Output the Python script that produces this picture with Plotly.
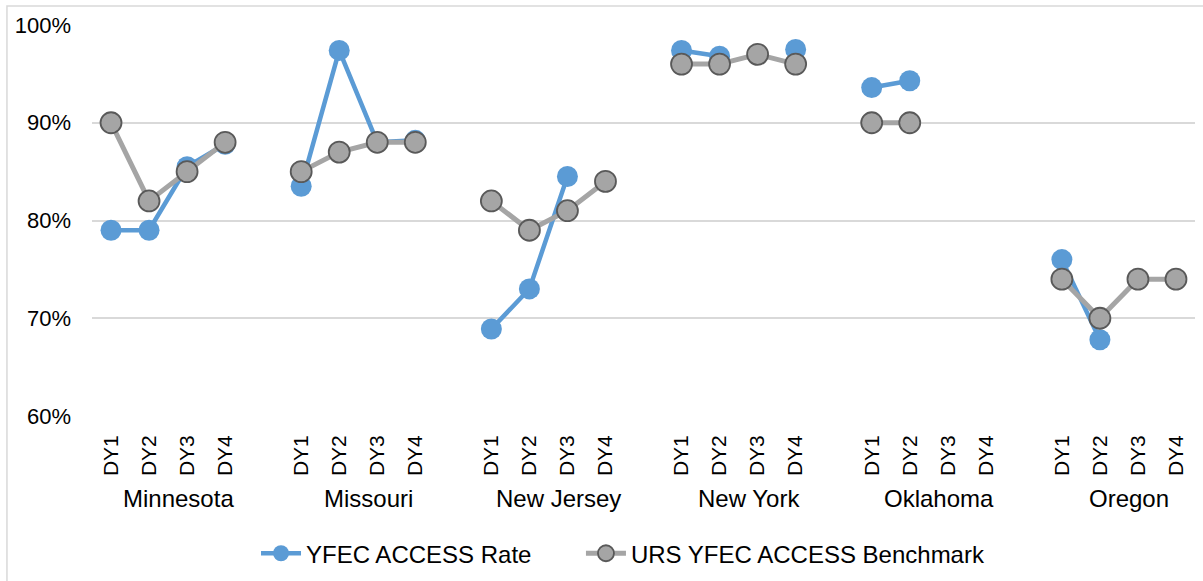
import plotly.graph_objects as go

states = ["Minnesota", "Missouri", "New Jersey", "New York", "Oklahoma", "Oregon"]
periods = ["DY1", "DY2", "DY3", "DY4"]

rate = {
    "Minnesota": [79.0, 79.0, 85.5, 87.8],
    "Missouri": [83.5, 97.4, 88.0, 88.2],
    "New Jersey": [68.9, 73.0, 84.5, None],
    "New York": [97.4, 96.8, None, 97.5],
    "Oklahoma": [93.6, 94.3, None, None],
    "Oregon": [76.0, 67.8, None, None],
}
benchmark = {
    "Minnesota": [90, 82, 85, 88],
    "Missouri": [85, 87, 88, 88],
    "New Jersey": [82, 79, 81, 84],
    "New York": [96, 96, 97, 96],
    "Oklahoma": [90, 90, None, None],
    "Oregon": [74, 70, 74, 74],
}

slot = len(periods) + 1
xs, yr, yb = [], [], []
for g, s in enumerate(states):
    for i, p in enumerate(periods):
        xs.append(g * slot + i)
        yr.append(None if rate[s][i] is None else rate[s][i] / 100)
        yb.append(None if benchmark[s][i] is None else benchmark[s][i] / 100)
    if g < len(states) - 1:
        xs.append(g * slot + len(periods))
        yr.append(None)
        yb.append(None)
tickvals = [g * slot + i for g in range(len(states)) for i in range(len(periods))]
ticktext = [p for _ in states for p in periods]

FONT = "Liberation Sans, Arial, sans-serif"

fig = go.Figure()
fig.add_trace(go.Scatter(
    x=xs, y=yr, name="YFEC ACCESS Rate", mode="lines+markers",
    line=dict(color="#5B9BD5", width=4.5),
    marker=dict(size=21, color="#5B9BD5", line=dict(width=0)),
    connectgaps=False, legend="legend",
))
fig.add_trace(go.Scatter(
    x=xs, y=yb, name="URS YFEC ACCESS Benchmark", mode="lines+markers",
    line=dict(color="#A5A5A5", width=5),
    marker=dict(size=21, color="#A5A5A5", line=dict(width=1.8, color="#595959")),
    connectgaps=False, legend="legend2",
))

for g, s in enumerate(states):
    fig.add_annotation(
        x=g * slot + (len(periods) - 1) / 2 + 0.27, y=0, yref="paper", yshift=-82,
        text=s, showarrow=False, xanchor="center", yanchor="middle",
        font=dict(family=FONT, size=24, color="#000000"),
    )

fig.add_shape(type="rect", xref="paper", yref="paper",
              x0=-0.0771, x1=1.02, y0=-0.6, y1=1.0486,
              line=dict(color="#D9D9D9", width=1.5), layer="below")

legend_common = dict(orientation="h", y=-0.352, yanchor="middle",
                     font=dict(size=24), itemwidth=40, tracegroupgap=0,
                     xanchor="left")

fig.update_layout(
    width=1203, height=581,
    margin=dict(l=92, r=8, t=25, b=165, autoexpand=False),
    paper_bgcolor="white", plot_bgcolor="white",
    font=dict(family=FONT, color="#000000"),
    showlegend=True,
    legend=dict(x=0.1487, **legend_common),
    legend2=dict(x=0.4433, **legend_common),
    xaxis=dict(
        range=[-0.5, len(xs) - 0.5], tickmode="array", tickvals=tickvals,
        ticktext=ticktext, tickangle=-90, showgrid=False, zeroline=False,
        showline=False, ticks="", tickfont=dict(size=21, color="#000000"),
        ticklabelstandoff=14, automargin=False,
    ),
    yaxis=dict(
        range=[0.6, 1.0], dtick=0.1, tickformat=".0%", showgrid=True,
        gridcolor="#D9D9D9", gridwidth=1.5, zeroline=False, showline=False,
        ticks="", tickfont=dict(size=22, color="#000000"), ticklabelstandoff=20,
        automargin=False,
    ),
)

fig.write_html(
    "out.html",
    config={"displayModeBar": False},
    post_script="document.body.style.margin='0';document.body.style.overflow='hidden';",
)
